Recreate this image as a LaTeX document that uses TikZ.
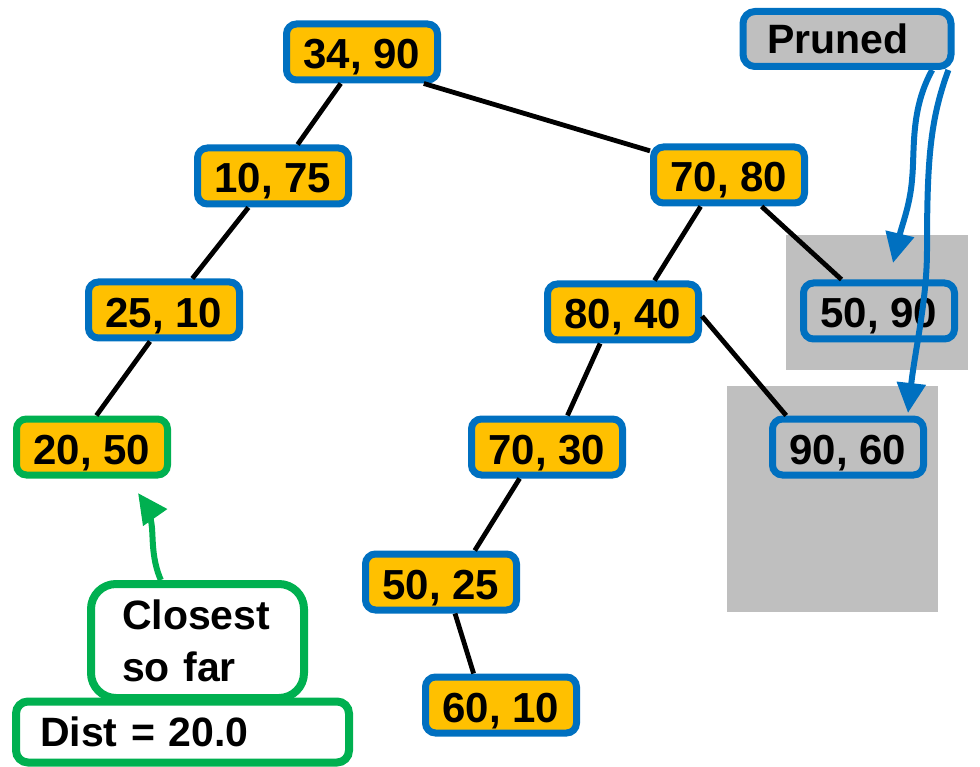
\documentclass[tikz,border=0pt]{standalone}
\usepackage{fontspec}
\setmainfont{Liberation Sans}
\usetikzlibrary{arrows.meta}
\definecolor{kdblue}{HTML}{0070C0}
\definecolor{kdorange}{HTML}{FFC000}
\definecolor{kdgreen}{HTML}{00B050}
\definecolor{kdgray}{HTML}{BFBFBF}
\begin{document}
\begin{tikzpicture}[x=1pt, y=-1pt,
    kd/.style={draw=kdblue, fill=kdorange, line width=7pt, rounded corners=10pt, minimum width=151pt, minimum height=56pt, inner sep=3pt, text height=34pt, text depth=0pt, font=\bfseries\fontsize{42}{48}\selectfont},
    note/.style={draw=kdgreen, fill=white, line width=8pt, align=left, inner ysep=3pt, font=\bfseries\fontsize{41}{52}\selectfont},
    edge/.style={line width=4.8pt, black},
    parrow/.style={draw=kdblue, line width=6pt, -{Triangle[length=30pt, width=28pt]}},
    garrow/.style={draw=kdgreen, line width=6pt, -{Triangle[length=30pt, width=28pt]}}
]
\useasboundingbox (0,0) rectangle (980,767);

% Pruned regions
\fill[kdgray] (786,235) rectangle (968,370);
\fill[kdgray] (727,386) rectangle (938,612);

% Tree nodes
\node[kd] (n3490) at (362,52) {34, 90};
\node[kd] (n1075) at (273,176) {10, 75};
\node[kd] (n7080) at (729,175) {70, 80};
\node[kd] (n2510) at (164,310) {25, 10};
\node[kd] (n8040) at (623,312) {80, 40};
\node[kd, fill=kdgray] (n5090) at (879,311) {50, 90};
\node[kd, draw=kdgreen] (n2050) at (92,447) {20, 50};
\node[kd] (n7030) at (547,447) {70, 30};
\node[kd, fill=kdgray] (n9060) at (848,447) {90, 60};
\node[kd] (n5025) at (441,582) {50, 25};
\node[kd] (n6010) at (501,705) {60, 10};

% Edges
\draw[edge] (n3490.-124) -- (n1075.52);
\draw[edge] (n3490.-27) -- (n7080.163);
\draw[edge] (n1075.-128) -- (n2510.48);
\draw[edge] (n2510.-114) -- (n2050.82);
\draw[edge] (n7080.-132) -- (n8040.45);
\draw[edge] (n7080.-44) -- (n5090.140);
\draw[edge] (n8040.-126) -- (n7030.57);
\draw[edge] (n8040.-3) -- (n9060.153);
\draw[edge] (n7030.-131) -- (n5025.43);
\draw[edge] (n5025.-66) -- (n6010.131);

% Labels
\node[note, draw=kdblue, fill=kdgray, line width=7pt, rounded corners=12pt, text width=159pt, inner xsep=24.5pt, minimum height=55pt] (pruned) at (847,39) {Pruned};
\node[note, rounded corners=25pt, text width=151pt, inner xsep=31pt, minimum height=114pt] (closest) at (197.5,641) {Closest\\so far};
\node[note, rounded corners=12pt, text width=285pt, inner xsep=24pt, minimum height=61pt] (dist) at (182.5,732) {Dist = 20.0};

% Arrows
\coordinate (tipA) at (893,263);
\coordinate (tipB) at (908,413);
\coordinate (tipC) at (138,493);
\draw[parrow] (pruned.-20) .. controls (910,110) and (915,150) .. (912,180) .. controls (910,205) and (902,225) .. (tipA);
\draw[parrow] (pruned.-17) .. controls (930,120) and (927,160) .. (927,250) .. controls (927,300) and (915,350) .. (tipB);
\draw[garrow] (closest.121) .. controls (152,560) and (153,540) .. (152,528) .. controls (151,515) and (145,503) .. (tipC);

\end{tikzpicture}
\end{document}
